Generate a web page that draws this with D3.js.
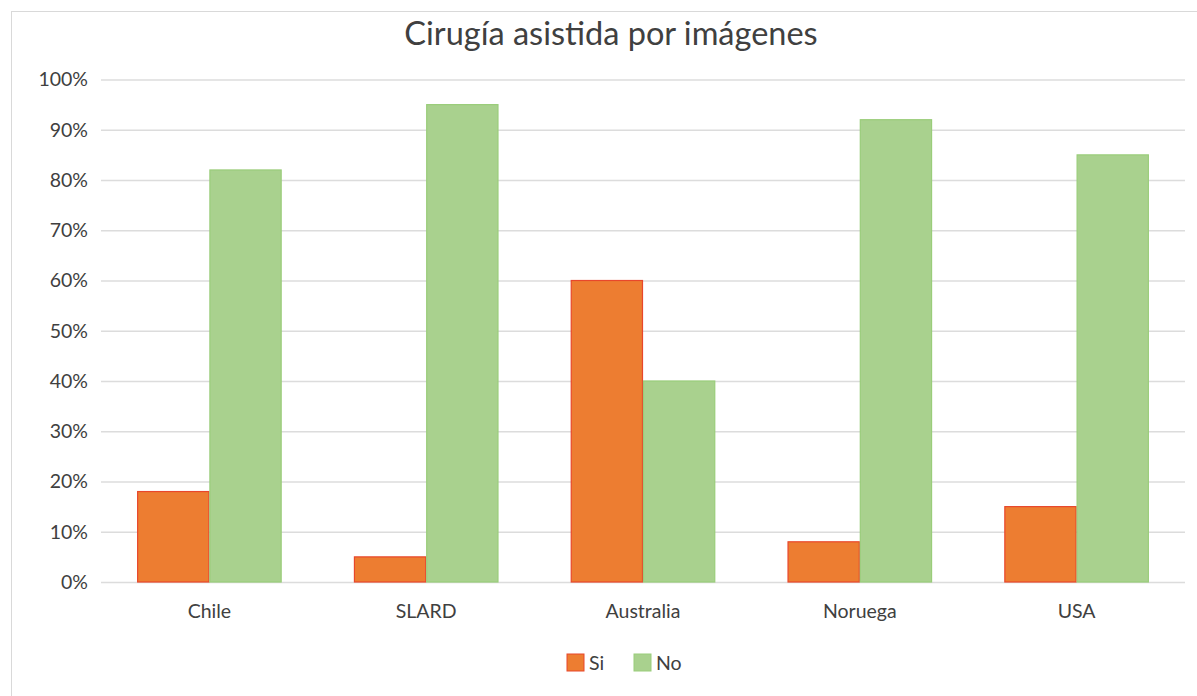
<!DOCTYPE html>
<html lang="es">
  <head>
    <meta charset="utf-8">
    <title>Cirugía asistida por imágenes</title>
    <script src="https://d3js.org/d3.v7.min.js"></script>
    <style>
      body { margin: 0; background: #fff; }
      text { font-family: Lato, "Open Sans", sans-serif; }
    </style>
  </head>
  <body>
    <div id="container"></div>
    <script>
      const width = 1197, height = 696;
      const margin = {top: 79.5, right: 12, bottom: 114, left: 101};

      const categories = ["Chile", "SLARD", "Australia", "Noruega", "USA"];
      const series = ["Si", "No"];
      const si = [18, 5, 60, 8, 15];
      const no = [82, 95, 40, 92, 85];
      const yTicks = [0, 10, 20, 30, 40, 50, 60, 70, 80, 90, 100];
      const colors = {Si: "#ED7D31", No: "#A9D18E"};
      const strokes = {Si: "#E8472B", No: "#9ACD7A"};

      const data = categories.map((c, i) => ({cat: c, Si: si[i], No: no[i]}));

      const x0 = d3.scaleBand()
        .domain(categories)
        .range([margin.left, width - margin.right])
        .paddingInner(1 / 3)
        .paddingOuter(1 / 6);
      const x1 = d3.scaleBand()
        .domain(series)
        .range([0, x0.bandwidth()]);
      const y = d3.scaleLinear()
        .domain([0, 100])
        .range([height - margin.bottom, margin.top]);

      const svg = d3.select("#container").append("svg")
        .attr("width", width)
        .attr("height", height);

      // chart frame
      svg.append("rect")
        .attr("x", 11.5).attr("y", 11.5)
        .attr("width", width - 11).attr("height", height - 11)
        .attr("fill", "none").attr("stroke", "#d9d9d9");

      // grid + y labels
      const yAxis = svg.append("g")
        .attr("transform", `translate(${margin.left},0)`)
        .call(d3.axisLeft(y).tickValues(yTicks).tickFormat(d => d + "%")
          .tickSize(-(width - margin.left - margin.right)).tickPadding(13))
        .call(g => g.select(".domain").remove());
      yAxis.selectAll(".tick line").attr("stroke", "#dcdcdc").attr("stroke-width", 1.6);
      yAxis.selectAll(".tick text")
        .attr("fill", "#404040").attr("font-size", 19.5);

      // bars
      svg.append("g")
        .selectAll("g")
        .data(data)
        .join("g")
          .attr("transform", d => `translate(${x0(d.cat)},0)`)
        .selectAll("rect")
        .data(d => series.map(s => ({key: s, value: d[s]})))
        .join("rect")
          .attr("x", d => x1(d.key) + 0.5)
          .attr("y", d => y(d.value))
          .attr("width", x1.bandwidth() - 1)
          .attr("height", d => y(0) - y(d.value))
          .attr("fill", d => colors[d.key])
          .attr("stroke", d => strokes[d.key])
          .attr("stroke-width", 1.2);

      // x labels
      const xAxis = svg.append("g")
        .attr("transform", `translate(0,${height - margin.bottom})`)
        .call(d3.axisBottom(x0).tickSize(0).tickPadding(22))
        .call(g => g.select(".domain").remove());
      xAxis.selectAll(".tick text")
        .attr("fill", "#404040").attr("font-size", 19.5);

      // title
      svg.append("text")
        .attr("x", 611).attr("y", 45)
        .attr("text-anchor", "middle")
        .attr("fill", "#404040")
        .attr("font-size", 32.5)
        .text("Cirugía asistida por imágenes");

      // legend
      const legendX = [567, 634];
      const legend = svg.append("g")
        .selectAll("g")
        .data(series)
        .join("g")
          .attr("transform", (d, i) => `translate(${legendX[i]},654)`);
      legend.append("rect")
        .attr("width", 17).attr("height", 17)
        .attr("fill", d => colors[d])
        .attr("stroke", d => strokes[d]);
      legend.append("text")
        .attr("x", 22).attr("y", 16)
        .attr("fill", "#404040").attr("font-size", 19.5)
        .text(d => d);
    </script>
  </body>
</html>
